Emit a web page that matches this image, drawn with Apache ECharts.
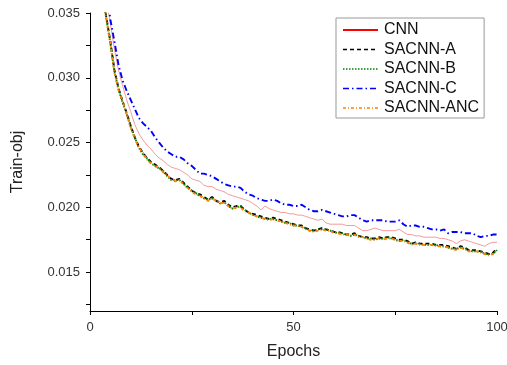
<!DOCTYPE html>
<html><head><meta charset="utf-8">
<script src="https://cdn.jsdelivr.net/npm/echarts@6/dist/echarts.min.js"></script>
<style>html,body{margin:0;padding:0;background:#fff}#c{width:507px;height:365px}</style>
</head><body><div id="c"></div>
<script>
const epochs = Array.from({length: 100}, (_, i) => i + 1);
const seriesNames = ['CNN', 'SACNN-A', 'SACNN-B', 'SACNN-C', 'SACNN-ANC'];
const xTickValues = [0, 25, 50, 75, 100];
const xLabelValues = [0, 50, 100];
const yTickValues = [0.0125, 0.015, 0.0175, 0.02, 0.0225, 0.025, 0.0275, 0.03, 0.0325, 0.035];
const yLabelValues = [0.015, 0.02, 0.025, 0.03, 0.035];

const cnn = [0.0462,0.0415,0.0380,0.0360,0.0342,0.0322,0.0306,0.0294,0.0283,0.0274,
0.0264,0.0257,0.0252,0.0248,0.0245,0.0241,0.0238,0.0236,0.0233,0.0231,
0.0230,0.0229,0.0227,0.0225,0.0222,0.0221,0.0220,0.0217,0.0216,0.0216,
0.0214,0.0213,0.0212,0.0210,0.0209,0.0208,0.0207,0.0206,0.0205,0.0203,
0.0201,0.0198,0.0201,0.0199,0.0198,0.0197,0.0196,0.0196,0.0195,0.0195,
0.0194,0.0194,0.0193,0.0192,0.0191,0.0190,0.0191,0.0188,0.0187,0.0187,
0.0187,0.0187,0.0186,0.0186,0.0186,0.0184,0.0182,0.0182,0.0183,0.0184,
0.0183,0.0182,0.0182,0.0182,0.0182,0.0183,0.0181,0.0179,0.0179,0.0178,
0.0178,0.0177,0.0177,0.0177,0.0177,0.0176,0.0176,0.0175,0.0174,0.0172,
0.0174,0.0175,0.0174,0.0173,0.0172,0.0171,0.0170,0.0172,0.0173,0.0173];

const sacnnA = [0.0452,0.0405,0.0368,0.0347,0.0328,0.0306,0.0292,0.0282,0.0273,0.0263,
0.0254,0.0247,0.0242,0.0238,0.0235,0.0233,0.0231,0.0228,0.0225,0.0222,
0.0221,0.0222,0.0219,0.0216,0.0213,0.0211,0.0210,0.0208,0.0206,0.0208,
0.0205,0.0204,0.0205,0.0202,0.0200,0.0201,0.0201,0.0198,0.0196,0.0195,
0.0194,0.0193,0.0192,0.0191,0.0192,0.0191,0.0190,0.0189,0.0188,0.0187,
0.0186,0.0186,0.0184,0.0183,0.0182,0.0183,0.0184,0.0183,0.0182,0.0181,
0.0181,0.0180,0.0179,0.0179,0.0180,0.0178,0.0177,0.0177,0.0176,0.0176,
0.0177,0.0176,0.0177,0.0177,0.0176,0.0175,0.0175,0.0174,0.0172,0.0173,
0.0172,0.0172,0.0172,0.0172,0.0171,0.0171,0.0171,0.0170,0.0169,0.0168,
0.0170,0.0169,0.0167,0.0167,0.0167,0.0166,0.0165,0.0164,0.0165,0.0168];

const sacnnB = [0.0450,0.0403,0.0366,0.0346,0.0327,0.0305,0.0291,0.0281,0.0272,0.0262,
0.0254,0.0246,0.0241,0.0238,0.0234,0.0232,0.0230,0.0228,0.0224,0.0221,
0.0221,0.0221,0.0218,0.0215,0.0213,0.0211,0.0209,0.0207,0.0206,0.0207,
0.0205,0.0203,0.0204,0.0201,0.0199,0.0200,0.0201,0.0198,0.0196,0.0194,
0.0193,0.0192,0.0191,0.0191,0.0191,0.0190,0.0189,0.0188,0.0188,0.0186,
0.0186,0.0185,0.0184,0.0182,0.0182,0.0183,0.0183,0.0183,0.0182,0.0181,
0.0180,0.0180,0.0179,0.0178,0.0179,0.0178,0.0177,0.0176,0.0176,0.0175,
0.0176,0.0176,0.0177,0.0176,0.0175,0.0174,0.0175,0.0173,0.0172,0.0172,
0.0172,0.0171,0.0171,0.0171,0.0171,0.0170,0.0170,0.0169,0.0168,0.0168,
0.0169,0.0168,0.0167,0.0166,0.0166,0.0166,0.0164,0.0164,0.0164,0.0167];

const sacnnC = [0.0480,0.0440,0.0400,0.0370,0.0345,0.0328,0.0310,0.0298,0.0290,0.0283,
0.0276,0.0269,0.0265,0.0262,0.0259,0.0254,0.0250,0.0246,0.0243,0.0241,
0.0239,0.0239,0.0237,0.0234,0.0232,0.0229,0.0226,0.0226,0.0225,0.0224,
0.0222,0.0220,0.0218,0.0217,0.0216,0.0216,0.0215,0.0212,0.0210,0.0209,
0.0207,0.0206,0.0205,0.0205,0.0206,0.0205,0.0203,0.0202,0.0202,0.0201,
0.0201,0.0202,0.0200,0.0198,0.0197,0.0197,0.0198,0.0197,0.0196,0.0195,
0.0194,0.0193,0.0193,0.0194,0.0194,0.0192,0.0190,0.0189,0.0190,0.0190,
0.0190,0.0190,0.0189,0.0189,0.0189,0.0190,0.0187,0.0185,0.0186,0.0186,
0.0185,0.0185,0.0184,0.0183,0.0183,0.0182,0.0183,0.0180,0.0181,0.0181,
0.0181,0.0180,0.0180,0.0180,0.0178,0.0177,0.0178,0.0178,0.0179,0.0179];

const sacnnANC = [0.0451,0.0404,0.0367,0.0346,0.0326,0.0304,0.0291,0.0282,0.0272,0.0262,
0.0253,0.0246,0.0242,0.0237,0.0234,0.0232,0.0230,0.0227,0.0225,0.0221,
0.0220,0.0221,0.0218,0.0215,0.0212,0.0210,0.0209,0.0207,0.0205,0.0207,
0.0205,0.0203,0.0204,0.0201,0.0199,0.0200,0.0200,0.0197,0.0196,0.0194,
0.0193,0.0192,0.0191,0.0190,0.0191,0.0190,0.0189,0.0188,0.0187,0.0186,
0.0186,0.0185,0.0183,0.0182,0.0181,0.0182,0.0183,0.0182,0.0182,0.0180,
0.0180,0.0179,0.0179,0.0178,0.0179,0.0177,0.0177,0.0176,0.0175,0.0175,
0.0176,0.0175,0.0176,0.0176,0.0175,0.0174,0.0174,0.0173,0.0171,0.0172,
0.0171,0.0171,0.0171,0.0171,0.0170,0.0170,0.0170,0.0169,0.0168,0.0167,
0.0169,0.0168,0.0166,0.0166,0.0166,0.0165,0.0164,0.0163,0.0164,0.0167];

const seriesValues = [cnn, sacnnA, sacnnB, sacnnC, sacnnANC];
const styles = [
  {color: '#f07070', width: 0.7, type: 'solid'},
  {color: '#000000', width: 1.9, type: [4, 3]},
  {color: '#008000', width: 1.9, type: [1.5, 1.5]},
  {color: '#0000ff', width: 1.9, type: [6, 3, 1.5, 3]},
  {color: '#ff8000', width: 1.9, type: [3, 2, 1, 2]}
];
const legendLineStyles = [
  {color: '#ff0000', width: 2, type: 'solid'},
  {color: '#000000', width: 1.6, type: [4, 3]},
  {color: '#008000', width: 1.6, type: [1.5, 1.5]},
  {color: '#0000ff', width: 1.6, type: [6, 3, 1.5, 3]},
  {color: '#ff8000', width: 1.6, type: [3, 2, 1, 2]}
];

const font = 'Liberation Sans, Arial, sans-serif';
const chart = echarts.init(document.getElementById('c'), null, {renderer: 'canvas'});
chart.setOption({
  animation: false,
  backgroundColor: '#fff',
  grid: {left: 90, right: 10, top: 13, bottom: 54, containLabel: false, outerBoundsMode: 'none'},
  legend: {
    orient: 'vertical', left: 336, top: 18,
    itemWidth: 35, itemHeight: 16, itemGap: 3.5,
    padding: [4, 5, 2, 6],
    borderColor: '#999', borderWidth: 1, backgroundColor: '#fff',
    itemStyle: {opacity: 0},
    textStyle: {fontFamily: font, fontSize: 16, color: '#111', padding: [0, 0, 0, 1]},
    data: seriesNames.map((n, i) => ({name: n, lineStyle: legendLineStyles[i]}))
  },
  xAxis: {
    type: 'value', min: 0, max: 100, interval: 25,
    name: 'Epochs', nameLocation: 'middle', nameGap: 33,
    nameTextStyle: {fontFamily: font, fontSize: 16, color: '#222'},
    axisLine: {show: true, onZero: false, lineStyle: {color: '#000', width: 1}},
    axisTick: {show: true, inside: false, length: 4, customValues: xTickValues, lineStyle: {color: '#000'}},
    axisLabel: {fontFamily: font, fontSize: 13, color: '#333', margin: 10, customValues: xLabelValues},
    splitLine: {show: false}
  },
  yAxis: {
    type: 'value', min: 0.012, max: 0.035,
    name: 'Train-obj', nameLocation: 'middle', nameGap: 64, nameRotate: 90,
    nameTextStyle: {fontFamily: font, fontSize: 16, color: '#222'},
    axisLine: {show: true, lineStyle: {color: '#000', width: 1}},
    axisTick: {show: true, inside: false, length: 4, customValues: yTickValues, lineStyle: {color: '#000'}},
    axisLabel: {fontFamily: font, fontSize: 13, color: '#333', margin: 10, customValues: yLabelValues,
      formatter: v => v.toFixed(3)},
    splitLine: {show: false}
  },
  series: seriesNames.map((n, i) => ({
    name: n, type: 'line', symbol: 'none', clip: true,
    lineStyle: styles[i], itemStyle: {color: styles[i].color},
    data: epochs.map((e, j) => [e, seriesValues[i][j]])
  }))
});
</script></body></html>
